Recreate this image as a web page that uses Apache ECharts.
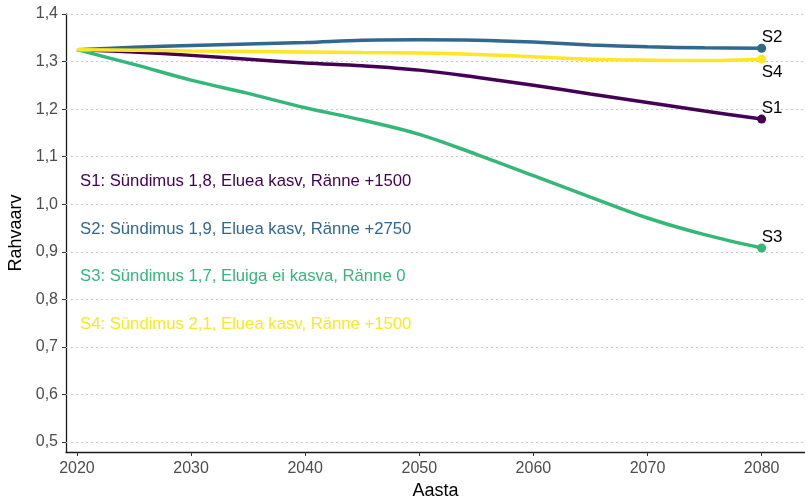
<!DOCTYPE html>
<html>
<head>
<meta charset="utf-8">
<script src="https://cdn.jsdelivr.net/npm/echarts@6/dist/echarts.min.js"></script>
<style>
  html, body { margin: 0; padding: 0; background: #fff; }
  #chart { width: 805px; height: 500px; }
</style>
</head>
<body>
<div id="chart"></div>
<script>
// aastad ja stsenaariumid
const years = [2020, 2025, 2030, 2035, 2040, 2045, 2050, 2055, 2060, 2065, 2070, 2075, 2080]
const s1 = [1.325, 1.320, 1.313, 1.305, 1.297, 1.291, 1.282, 1.267, 1.250, 1.232, 1.214, 1.196, 1.179]
const s2 = [1.325, 1.330, 1.334, 1.337, 1.340, 1.345, 1.346, 1.345, 1.341, 1.335, 1.331, 1.329, 1.328]
const s3 = [1.325, 1.294, 1.261, 1.233, 1.203, 1.177, 1.147, 1.105, 1.060, 1.015, 0.971, 0.936, 0.908]
const s4 = [1.325, 1.324, 1.322, 1.321, 1.320, 1.319, 1.318, 1.315, 1.310, 1.305, 1.303, 1.302, 1.305]
const xTicks = [2020, 2030, 2040, 2050, 2060, 2070, 2080]
const yTicks = [0.5, 0.6, 0.7, 0.8, 0.9, 1.0, 1.1, 1.2, 1.3, 1.4]
const scenarios = [
  { key: 'S1', text: 'S1: Sündimus 1,8, Eluea kasv, Ränne +1500', color: '#440154', data: s1, below: false },
  { key: 'S2', text: 'S2: Sündimus 1,9, Eluea kasv, Ränne +2750', color: '#31688e', data: s2, below: false },
  { key: 'S3', text: 'S3: Sündimus 1,7, Eluiga ei kasva, Ränne 0', color: '#35b779', data: s3, below: false },
  { key: 'S4', text: 'S4: Sündimus 2,1, Eluea kasv, Ränne +1500', color: '#fde725', data: s4, below: true }
]

const fontFamily = "'Liberation Sans', Arial, sans-serif"
const chart = echarts.init(document.getElementById('chart'))

const series = scenarios.map(sc => ({
  name: sc.key,
  type: 'line',
  smooth: 0.35,
  symbol: 'none',
  showSymbol: true,
  lineStyle: { width: 3.5, color: sc.color },
  itemStyle: { color: sc.color },
  z: sc.key === 'S4' ? 4 : 3,
  data: sc.data.map((v, i) => {
    if (i < sc.data.length - 1) return [years[i], v]
    return {
      value: [years[i], v],
      symbol: 'circle',
      symbolSize: 9,
      label: {
        show: true,
        formatter: sc.key,
        position: 'right',
        distance: 0,
        offset: [-4.5, sc.below ? 13 : -11],
        color: '#000',
        fontSize: 17,
        fontFamily
      }
    }
  })
}))

chart.setOption({
  animation: false,
  grid: { left: 66, right: 0, top: 14, bottom: 48, outerBoundsMode: 'none', containLabel: false },
  xAxis: {
    type: 'value',
    min: 2019.04,
    max: 2083.8,
    name: 'Aasta',
    nameLocation: 'middle',
    nameGap: 30,
    nameTextStyle: { color: '#000', fontSize: 18, fontFamily },
    axisLine: { show: true, lineStyle: { color: '#1a1a1a', width: 1.3 } },
    axisTick: { show: true, length: 4, customValues: xTicks, lineStyle: { color: '#333' } },
    axisLabel: {
      customValues: xTicks,
      color: '#4d4d4d',
      fontSize: 16,
      fontFamily,
      margin: 9,
      formatter: v => String(v)
    },
    splitLine: { show: false }
  },
  yAxis: {
    type: 'value',
    min: 0.479,
    max: 1.4,
    name: 'Rahvaarv',
    nameLocation: 'middle',
    nameGap: 35,
    nameRotate: 90,
    nameTextStyle: { color: '#000', fontSize: 18, fontFamily },
    axisLine: { show: true, lineStyle: { color: '#1a1a1a', width: 1.3 } },
    axisTick: { show: true, length: 4, customValues: yTicks, lineStyle: { color: '#333' } },
    axisLabel: {
      customValues: yTicks,
      color: '#4d4d4d',
      fontSize: 16,
      fontFamily,
      margin: 8,
      formatter: v => v.toFixed(1).replace('.', ',')
    },
    splitLine: { show: false }
  },
  graphic: scenarios.map((sc, i) => ({
    type: 'text',
    left: 80,
    top: 173 + i * 47.5,
    style: { text: sc.text, fill: sc.color, fontSize: 16.7, fontFamily }
  })),
  series: series.concat([{
    type: 'line',
    data: [],
    silent: true,
    z: 1,
    markLine: {
      symbol: 'none',
      silent: true,
      z: 1,
      label: { show: false },
      lineStyle: { color: '#c8c8c8', type: [2, 3], width: 1 },
      data: yTicks.map(v => ({ yAxis: v }))
    }
  }])
})
</script>
</body>
</html>
